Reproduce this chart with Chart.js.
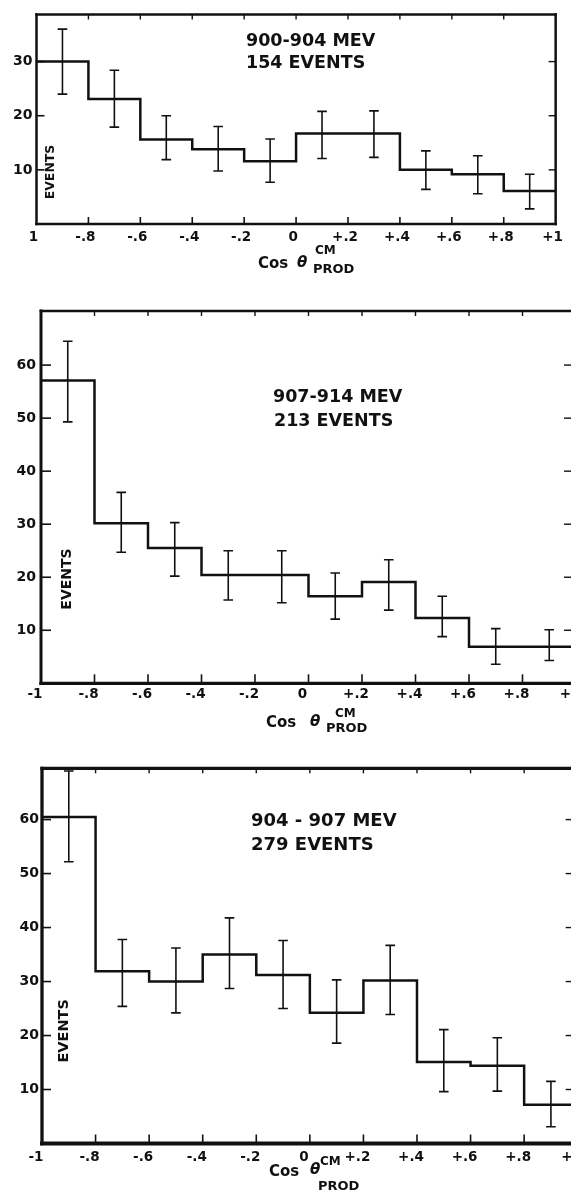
<!DOCTYPE html>
<html><head><meta charset="utf-8">
<script src="https://cdn.jsdelivr.net/npm/chart.js@4"></script>
<style>
html,body{margin:0;padding:0;background:#fff;overflow:hidden;width:571px;height:1192px;}
canvas{position:absolute;left:0;}
</style></head><body>
<canvas id="c1" width="571" height="290" style="top:0px"></canvas>
<canvas id="c2" width="600" height="450" style="top:290px"></canvas>
<canvas id="c3" width="600" height="447" style="top:745px"></canvas>
<script>
// ---- data ----
const binEdges = [-1,-0.8,-0.6,-0.4,-0.2,0,0.2,0.4,0.6,0.8,1];
const binCenters = [-0.9,-0.7,-0.5,-0.3,-0.1,0.1,0.3,0.5,0.7,0.9];
const xTickLabelsTop = ["1","-.8","-.6","-.4","-.2","0","+.2","+.4","+.6","+.8","+1"];
const xTickLabels = ["-1","-.8","-.6","-.4","-.2","0","+.2","+.4","+.6","+.8","+1"];
const yTicksTop = [10,20,30];
const yTicksLower = [10,20,30,40,50,60];

const events900_904 = [30,23.1,15.6,13.8,11.6,16.7,16.7,10,9.2,6.1];
const errLow900_904 = [24,17.9,11.9,9.8,7.7,12.1,12.3,6.4,5.6,2.8];
const errHigh900_904 = [36,28.4,20,18,15.7,20.8,20.9,13.5,12.6,9.2];

const events907_914 = [57.1,30.2,25.5,20.4,20.4,16.4,19.1,12.3,6.9,6.9];
const errLow907_914 = [49.3,24.7,20.2,15.7,15.2,12.1,13.8,8.8,3.6,4.3];
const errHigh907_914 = [64.5,36,30.3,25,25,20.8,23.3,16.4,10.3,10.1];

const events904_907 = [60.5,31.9,30,35,31.2,24.2,30.2,15.1,14.4,7.2];
const errLow904_907 = [52.2,25.4,24.2,28.7,25,18.6,23.9,9.6,9.7,3.1];
const errHigh904_907 = [69,37.8,36.2,41.8,37.6,30.3,36.7,21.1,19.6,11.5];

const titles900_904 = ["900-904 MEV","154 EVENTS"];
const titles907_914 = ["907-914 MEV","213 EVENTS"];
const titles904_907 = ["904 - 907 MEV","279 EVENTS"];
const yAxisTitle = "EVENTS";
const xAxisTitle = {main:"Cos", sym:"θ", sup:"CM", sub:"PROD"};

// ---- builders ----
const INK = '#111';
const FONT = '"DejaVu Sans", sans-serif';

function stepData(values){
  const pts = values.map((v,i)=>({x:binEdges[i], y:v}));
  pts.push({x:binEdges[binEdges.length-1], y:values[values.length-1]});
  return pts;
}
function errData(lo,hi){
  const pts=[];
  binCenters.forEach((c,i)=>{ pts.push({x:c,y:lo[i]},{x:c,y:hi[i]},{x:c,y:null}); });
  return pts;
}

function framePlugin(o){
  return {
    id:'frame',
    afterDatasetsDraw(chart){
      const {ctx, chartArea:a, scales:{x,y}} = chart;
      ctx.save(); ctx.strokeStyle=INK;
      const line=(x1,y1,x2,y2,w)=>{ctx.lineWidth=w;ctx.beginPath();ctx.moveTo(x1,y1);ctx.lineTo(x2,y2);ctx.stroke();};
      ctx.lineCap='square';
      line(a.left,a.top,a.right,a.top,o.fw.top);
      line(a.left,a.bottom,a.right,a.bottom,o.fw.bottom);
      line(a.left,a.top,a.left,a.bottom,o.fw.left);
      line(a.right,a.top,a.right,a.bottom,o.fw.right);
      ctx.lineCap='butt';
      x.ticks.forEach(t=>{
        if(t.value<=x.min||t.value>=x.max) return;
        const px=x.getPixelForValue(t.value);
        line(px,a.bottom,px,a.bottom-o.tl.bottom,1.6);
        line(px,a.top,px,a.top+o.tl.top,1.4);
      });
      y.ticks.forEach(t=>{
        const py=y.getPixelForValue(t.value);
        line(a.left-o.tl.leftOut,py,a.left+o.tl.left,py,1.6);
        line(a.right,py,a.right-o.tl.right,py,1.4);
      });
      ctx.restore();
    }
  };
}

function textPlugin(o){
  return {
    id:'annot',
    afterDraw(chart){
      const ctx=chart.ctx, T=o.top;
      ctx.save();
      ctx.fillStyle=INK; ctx.textAlign='left'; ctx.textBaseline='alphabetic';
      const put=(txt,size,x,cy,style)=>{
        ctx.font=(style||'bold')+' '+size+'px '+FONT;
        ctx.fillText(txt,x,cy-T+0.365*size);
      };
      put(o.titles[0],o.tSize,o.t1[0],o.t1[1]);
      put(o.titles[1],o.tSize,o.t2[0],o.t2[1]);
      put(xAxisTitle.main,15,o.ax.cos[0],o.ax.cos[1]);
      put(xAxisTitle.sym,15,o.ax.th[0],o.ax.th[1],'italic bold');
      put(xAxisTitle.sup,12,o.ax.cm[0],o.ax.cm[1]);
      put(xAxisTitle.sub,13,o.ax.prod[0],o.ax.prod[1]);
      ctx.translate(o.ev[0],o.ev[1]-T);
      ctx.rotate(-Math.PI/2);
      ctx.font='bold '+o.ev[2]+'px '+FONT;
      ctx.textAlign='center';
      ctx.fillText(yAxisTitle,0,0.365*o.ev[2]);
      ctx.restore();
    }
  };
}

function makePanel(id,o){
  new Chart(document.getElementById(id),{
    type:'line',
    data:{datasets:[
      {data:stepData(o.values), stepped:'before', borderColor:INK, borderWidth:2.5, pointRadius:0, fill:false, borderCapStyle:'square'},
      {data:errData(o.lo,o.hi), borderColor:INK, borderWidth:1.6, spanGaps:false, fill:false,
       pointStyle:'line', pointRadius:4.8, pointBorderWidth:1.6, pointBorderColor:INK, pointBackgroundColor:INK}
    ]},
    options:{
      responsive:false, animation:false, devicePixelRatio:1, events:[],
      layout:{padding:{left:0,right:o.padRight,top:o.padTop,bottom:0}},
      plugins:{legend:{display:false},tooltip:{enabled:false},title:{display:false}},
      scales:{
        x:{type:'linear',min:-1,max:1,
           afterBuildTicks:s=>{s.ticks=binEdges.map(v=>({value:v}));},
           afterFit:s=>{s.height=o.xHeight;},
           grid:{display:false,drawTicks:false}, border:{display:false},
           ticks:{autoSkip:false,maxRotation:0,minRotation:0,padding:o.xPad,labelOffset:o.labelOffset,color:INK,
                  font:{family:FONT,weight:'bold',size:13.5},
                  callback:(v,i)=>o.xLabels[i]}},
        y:{type:'linear',min:0,max:o.yMax,
           afterBuildTicks:s=>{s.ticks=o.yTicks.map(v=>({value:v}));},
           afterFit:s=>{s.width=o.yWidth;},
           grid:{display:false,drawTicks:false}, border:{display:false},
           ticks:{padding:o.yPad,color:INK,font:{family:FONT,weight:'bold',size:14}}}
      }
    },
    plugins:[framePlugin(o),textPlugin(o)]
  });
}

makePanel('c1',{
  top:0, values:events900_904, lo:errLow900_904, hi:errHigh900_904,
  xLabels:xTickLabelsTop, yTicks:yTicksTop, yMax:38.7,
  padTop:14.5, padRight:6, yWidth:36.5, xHeight:66, xPad:5, yPad:4, labelOffset:-3,
  fw:{top:2.5,bottom:2.5,left:2.5,right:2.5}, tl:{bottom:7,top:5,left:8,leftOut:0,right:7},
  titles:titles900_904, tSize:17.5, t1:[246,40], t2:[246,62],
  ax:{cos:[258,263], th:[297,261.5], cm:[315,250], prod:[313,268]},
  ev:[49.5,172,12.5]
});
makePanel('c2',{
  top:290, values:events907_914, lo:errLow907_914, hi:errHigh907_914,
  xLabels:xTickLabels, yTicks:yTicksLower, yMax:70.2,
  padTop:21, padRight:24, yWidth:41, xHeight:56.7, xPad:3.5, yPad:5, labelOffset:-6,
  fw:{top:2.7,bottom:3.3,left:3,right:3}, tl:{bottom:9,top:5,left:10,leftOut:0,right:12},
  titles:titles907_914, tSize:17.5, t1:[273,395.5], t2:[274,420],
  ax:{cos:[266,721.7], th:[310,720.8], cm:[335,712.4], prod:[326,727.7]},
  ev:[65.5,579,14]
});
makePanel('c3',{
  top:745, values:events904_907, lo:errLow904_907, hi:errHigh904_907,
  xLabels:xTickLabels, yTicks:yTicksLower, yMax:69.5,
  padTop:23.3, padRight:22.3, yWidth:42, xHeight:48.5, xPad:6, yPad:3, labelOffset:-6,
  fw:{top:3.3,bottom:4,left:3.3,right:3}, tl:{bottom:9,top:5,left:9,leftOut:0,right:12},
  titles:titles904_907, tSize:18, t1:[251,819], t2:[251,843.5],
  ax:{cos:[269,1170.8], th:[310,1169], cm:[320,1160.5], prod:[318,1185]},
  ev:[62.6,1030.8,14.5]
});
</script>
</body></html>
